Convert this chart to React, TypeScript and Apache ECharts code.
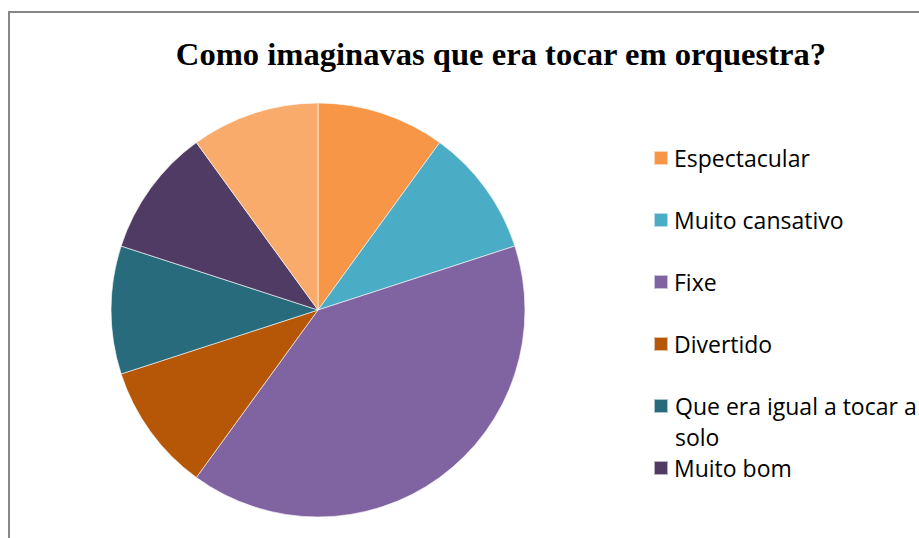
import React, { useEffect, useRef } from "react";
import * as echarts from "echarts";

const titleText = "Como imaginavas que era tocar em orquestra?";
const categories = [
  "Espectacular",
  "Muito cansativo",
  "Fixe",
  "Divertido",
  "Que era igual a tocar a solo",
  "Muito bom",
  "Outro",
];
const values = [1, 1, 4, 1, 1, 1, 1];
const colors = ["#F79646", "#4BACC6", "#8064A2", "#B65708", "#276B7C", "#4F3B63", "#F9AB6C"];
const legendNames = categories.slice(0, 6);
const wrappedName = "Que era igual a tocar a\nsolo";

export default function App() {
  const ref = useRef<HTMLDivElement>(null);
  useEffect(() => {
    if (!ref.current) return;
    const chart = echarts.init(ref.current, null, { renderer: "svg" });
    chart.setOption({
      animation: false,
      backgroundColor: "#ffffff",
      title: {
        text: titleText,
        left: 496,
        top: 32,
        textAlign: "center",
        textStyle: {
          fontFamily: "Liberation Serif",
          fontWeight: "bold",
          fontSize: 32.6,
          color: "#000000",
        },
      },
      legend: {
        orient: "vertical",
        left: 653,
        top: 144,
        padding: 0,
        itemWidth: 14,
        itemHeight: 14,
        itemGap: 34,
        icon: "rect",
        data: legendNames,
        selectedMode: false,
        formatter: (name: string) => (name === categories[4] ? " " : name),
        textStyle: {
          fontFamily: "Open Sans",
          fontSize: 23,
          lineHeight: 28,
          color: "#000000",
          padding: [0, 0, 0, 1],
        },
      },
      graphic: [
        {
          type: "rect",
          shape: { x: 9, y: 12, width: 1000, height: 600 },
          style: { fill: "none", stroke: "#878787", lineWidth: 2 },
          silent: true,
        },
        {
          type: "text",
          x: 675,
          y: 390,
          style: {
            text: wrappedName,
            fontFamily: "Open Sans",
            fontSize: 23,
            lineHeight: 31,
            fill: "#000000",
            verticalAlign: "top",
          },
        },
      ],
      series: [
        {
          type: "pie",
          center: [318, 310],
          radius: 207,
          startAngle: 90,
          clockwise: true,
          label: { show: false },
          labelLine: { show: false },
          itemStyle: { borderColor: "rgba(255,255,255,0.6)", borderWidth: 1 },
          emphasis: { disabled: true },
          data: categories.map((c, i) => ({
            name: c,
            value: values[i],
            itemStyle: { color: colors[i] },
          })),
        },
      ],
    });
    return () => chart.dispose();
  }, []);
  return (
    <div
      ref={ref}
      style={{ position: "absolute", left: 0, top: 0, width: 919, height: 538 }}
    />
  );
}
